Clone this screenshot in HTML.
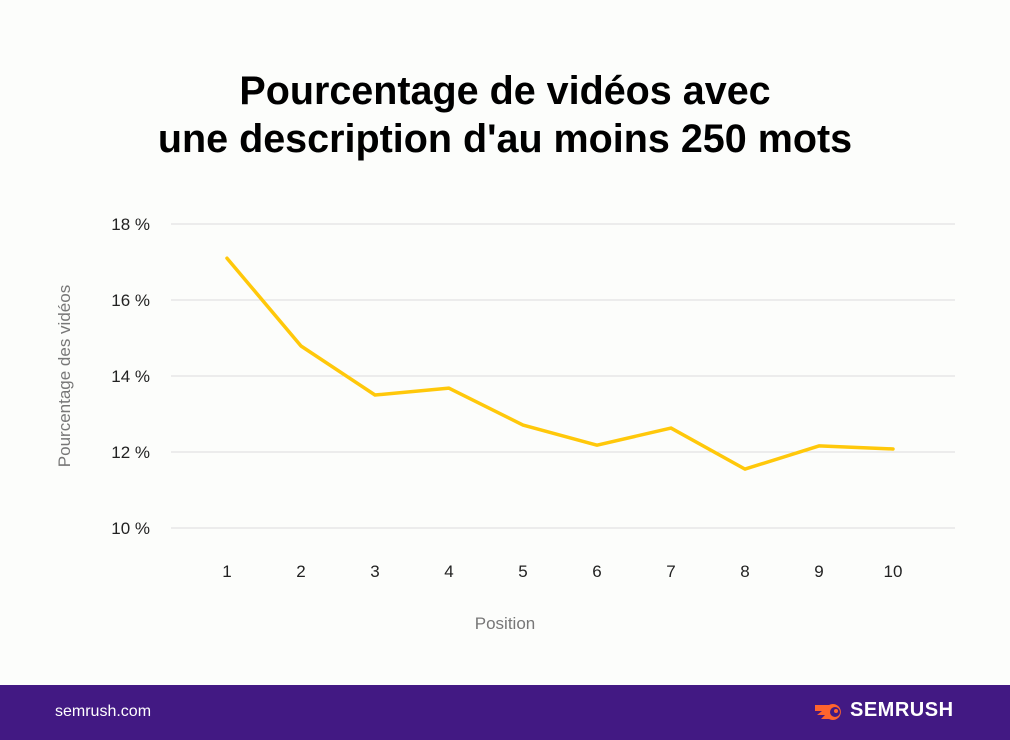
<!DOCTYPE html>
<html><head><meta charset="utf-8"><style>
body{margin:0;width:1010px;height:740px;background:#fcfdfb;font-family:"Liberation Sans",sans-serif;overflow:hidden;position:relative}
h1{position:absolute;top:67px;left:0;width:1010px;margin:0;text-align:center;font-size:39.5px;line-height:48px;font-weight:bold;color:#000}
#footer{position:absolute;left:0;top:685px;width:1010px;height:55px;background:#421983}
#site{position:absolute;left:55px;top:18px;color:#fff;font-size:16px}
#brand{position:absolute;left:850px;top:14px;color:#fff;font-size:20px;font-weight:bold;letter-spacing:0.5px}
</style></head><body>
<h1>Pourcentage de vidéos avec<br>une description d'au moins 250 mots</h1>
<svg id="chart" width="1010" height="680" style="position:absolute;left:0;top:0"></svg>
<div id="footer">
<div id="site">semrush.com</div>
<svg style="position:absolute;left:815px;top:17px" width="32" height="20" viewBox="0 0 32 20">
<path d="M0 3 H14 A8 8 0 1 1 14 17 H6 L10 13 H2 L7 9 H0 Z" fill="#ff642d"/>
<circle cx="20" cy="10" r="5" fill="#421983"/><circle cx="21" cy="9" r="2" fill="#ff642d"/></svg>
<div id="brand">SEMRUSH</div>
</div>
<script>
const categories=["1","2","3","4","5","6","7","8","9","10"];
const values=[17.1,14.79,13.5,13.68,12.71,12.18,12.63,11.55,12.16,12.08];
const yTicks=[10,12,14,16,18];
const yTickLabels=["10 %","12 %","14 %","16 %","18 %"];
const svg=document.getElementById('chart');
const NS='http://www.w3.org/2000/svg';
const x=i=>227+i*74;
const y=v=>528-(v-10)*38;
function mk(t,a,txt){const e=document.createElementNS(NS,t);for(const k in a)e.setAttribute(k,a[k]);if(txt!==undefined)e.textContent=txt;svg.appendChild(e);return e;}
yTicks.forEach((t,i)=>{
 const g=mk('line',{x1:171,x2:955,y1:y(t),y2:y(t),stroke:'#dcdcdc','stroke-width':1});
 
 
 const l=mk('text',{x:150,y:y(t)+6,'text-anchor':'end','font-size':17,fill:'#222','font-family':'Liberation Sans'},yTickLabels[i]);
 
 
});
categories.forEach((c,i)=>{
 const l=mk('text',{x:x(i),y:577,'text-anchor':'middle','font-size':17,fill:'#222','font-family':'Liberation Sans'},c);
 
 
});
const p=mk('polyline',{points:values.map((v,i)=>x(i)+','+y(v)).join(' '),fill:'none',stroke:'#ffc80a','stroke-width':3.5,'stroke-linejoin':'round','stroke-linecap':'round'});


const xt=mk('text',{x:505,y:629,'text-anchor':'middle','font-size':17,fill:'#777','font-family':'Liberation Sans'},'Position');


const yt=mk('text',{x:0,y:0,'text-anchor':'middle','font-size':17,fill:'#777','font-family':'Liberation Sans',transform:'translate(70,376) rotate(-90)'},'Pourcentage des vidéos');


</script>
</body></html>
